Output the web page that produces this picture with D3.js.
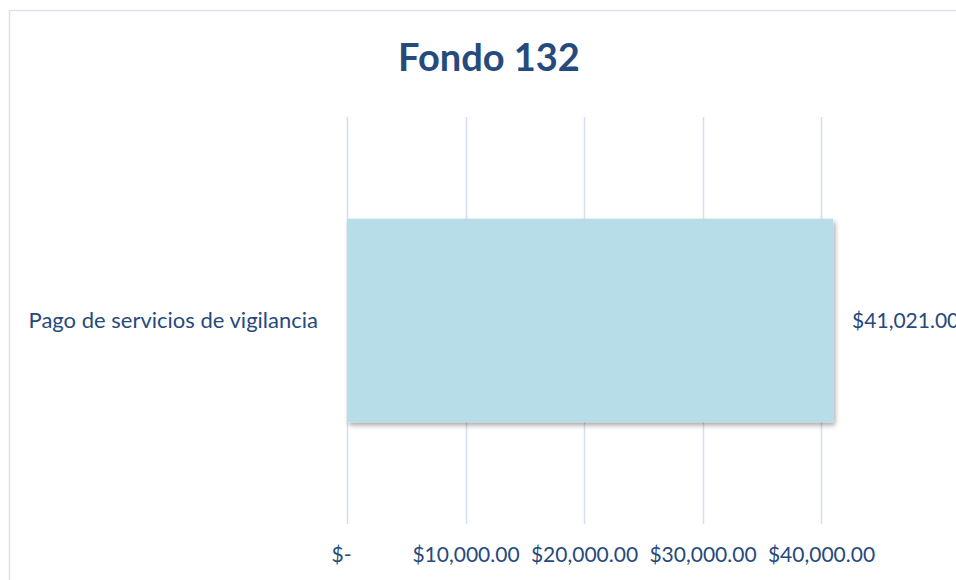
<!DOCTYPE html>
<html>
<head>
<meta charset="utf-8">
<script src="https://cdn.jsdelivr.net/npm/d3@7"></script>
<style>
  body { margin: 0; background: #fff; }
  svg text { font-family: Lato, "Open Sans", sans-serif; fill: #254a7c; }
</style>
</head>
<body>
<div id="chart"></div>
<script>
'use strict';

// chart data
const categories = ["Pago de servicios de vigilancia"];
const values = [41021];
const tickValues = [0, 10000, 20000, 30000, 40000];
const tickLabels = ["$-", "$10,000.00", "$20,000.00", "$30,000.00", "$40,000.00"];
const valueLabels = ["$41,021.00"];
const title = "Fondo 132";

const width = 956, height = 580;

const svg = d3.select("#chart")
    .append("svg")
    .attr("width", width)
    .attr("height", height);

// soft shadow under the bar
const defs = svg.append("defs");
const shadow = defs.append("filter")
    .attr("id", "barShadow")
    .attr("x", "-5%").attr("y", "-5%")
    .attr("width", "115%").attr("height", "120%");
shadow.append("feDropShadow")
    .attr("dx", 2).attr("dy", 3)
    .attr("stdDeviation", 2.5)
    .attr("flood-color", "#000")
    .attr("flood-opacity", 0.35);

// chart border (cropped on right and bottom)
svg.append("rect")
    .attr("x", 9.5).attr("y", 10.5)
    .attr("width", 1000).attr("height", 640)
    .attr("fill", "none")
    .attr("stroke", "#d9e2ef")
    .attr("stroke-width", 1.5);

// scales
const x = d3.scaleLinear()
    .domain([0, 40000])
    .range([347, 821]);

const y = d3.scaleBand()
    .domain(categories)
    .range([117, 524])
    .paddingInner(0.5)
    .paddingOuter(0.25);

// gridlines
svg.append("g")
    .selectAll("line")
    .data(tickValues)
    .enter()
    .append("line")
    .attr("x1", d => Math.round(x(d)) + 0.5)
    .attr("x2", d => Math.round(x(d)) + 0.5)
    .attr("y1", 117)
    .attr("y2", 524)
    .attr("stroke", "#d3dff0")
    .attr("stroke-width", 1.5);

// bars
svg.append("g")
    .selectAll("rect")
    .data(values)
    .enter()
    .append("rect")
    .attr("x", x(0))
    .attr("y", (d, i) => y(categories[i]))
    .attr("width", d => x(d) - x(0))
    .attr("height", y.bandwidth())
    .attr("fill", "#b7dde8")
    .attr("filter", "url(#barShadow)");

// value labels
svg.append("g")
    .selectAll("text")
    .data(values)
    .enter()
    .append("text")
    .attr("x", d => x(d) + 19)
    .attr("y", (d, i) => y(categories[i]) + y.bandwidth() / 2)
    .attr("dy", "0.35em")
    .attr("font-size", "21px")
    .text((d, i) => valueLabels[i]);

// category axis labels
svg.append("g")
    .selectAll("text")
    .data(categories)
    .enter()
    .append("text")
    .attr("x", 318)
    .attr("y", d => y(d) + y.bandwidth() / 2)
    .attr("dy", "0.35em")
    .attr("text-anchor", "end")
    .attr("font-size", "22px")
    .text(d => d);

// value axis labels
const axis = d3.axisBottom(x)
    .tickValues(tickValues)
    .tickSize(0)
    .tickFormat((d, i) => tickLabels[i]);

const axisG = svg.append("g")
    .attr("transform", "translate(0,544)")
    .call(axis);
axisG.select(".domain").remove();
axisG.selectAll("text")
    .attr("font-size", "21px")
    .attr("fill", "#254a7c")
    .attr("font-family", "Lato, sans-serif")
    .attr("dx", (d, i) => i === 0 ? -6 : 0);

// title
svg.append("text")
    .attr("x", 489)
    .attr("y", 71)
    .attr("text-anchor", "middle")
    .attr("font-size", "38px")
    .attr("font-weight", "bold")
    .text(title);
</script>
</body>
</html>
